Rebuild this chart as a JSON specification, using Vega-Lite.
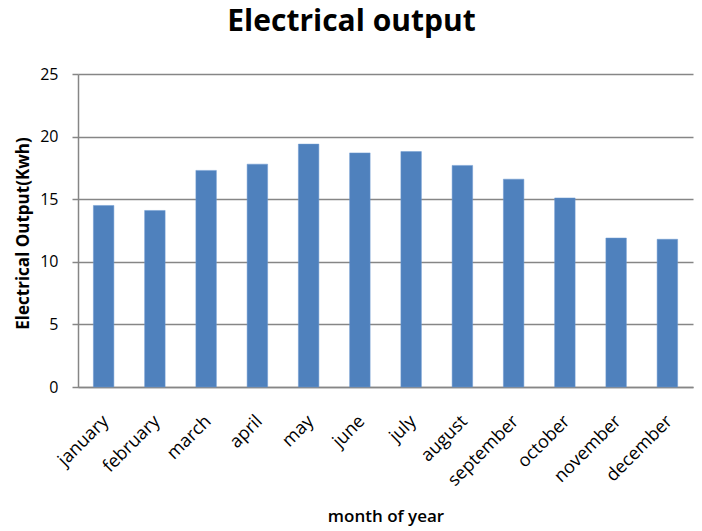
{
  "$schema": "https://vega.github.io/schema/vega-lite/v6.json",
  "width": 615,
  "height": 313,
  "autosize": {"type": "none"},
  "padding": {"left": 78, "top": 74, "right": 9, "bottom": 144},
  "background": "white",
  "title": {
    "text": "Electrical output",
    "font": "Open Sans",
    "fontSize": 30,
    "fontWeight": "bold",
    "color": "#000000",
    "anchor": "middle",
    "dx": -34,
    "offset": 29
  },
  "data": {
    "values": [
      {"month": "january", "output": 14.5},
      {"month": "february", "output": 14.1},
      {"month": "march", "output": 17.3},
      {"month": "april", "output": 17.8},
      {"month": "may", "output": 19.4},
      {"month": "june", "output": 18.7},
      {"month": "july", "output": 18.8},
      {"month": "august", "output": 17.7},
      {"month": "september", "output": 16.6},
      {"month": "october", "output": 15.1},
      {"month": "november", "output": 11.9},
      {"month": "december", "output": 11.8}
    ]
  },
  "mark": {"type": "bar", "color": "#4F81BD", "stroke": "#6f9bd1", "strokeWidth": 0.5},
  "encoding": {
    "x": {
      "field": "month",
      "type": "nominal",
      "sort": null,
      "scale": {"paddingInner": 0.6, "paddingOuter": 0.3},
      "axis": {
        "title": "month of year",
        "titleFont": "Open Sans",
        "titleFontSize": 17,
        "titleFontWeight": 600,
        "titleColor": "#000000",
        "titleY": 134,
        "titleBaseline": "alphabetic",
        "labelFont": "Open Sans",
        "labelFontSize": 18,
        "labelColor": "#000000",
        "labelAngle": -45,
        "labelPadding": 25,
        "labelOffset": -4,
        "ticks": false,
        "domainColor": "#868686",
        "domainWidth": 1.5
      }
    },
    "y": {
      "field": "output",
      "type": "quantitative",
      "scale": {"domain": [0, 25], "nice": false},
      "axis": {
        "title": "Electrical Output(Kwh)",
        "titleFont": "Open Sans",
        "titleFontSize": 17,
        "titleFontWeight": "bold",
        "titleColor": "#000000",
        "titleAngle": 270,
        "titleX": -55,
        "titleY": 159,
        "titleAlign": "center",
        "titleBaseline": "middle",
        "values": [0, 5, 10, 15, 20, 25],
        "labelFont": "Open Sans",
        "labelFontSize": 16,
        "labelColor": "#000000",
        "labelPadding": 14,
        "tickSize": 6,
        "tickColor": "#868686",
        "tickWidth": 1.5,
        "domainColor": "#868686",
        "domainWidth": 1.5,
        "grid": true,
        "gridColor": "#868686",
        "gridWidth": 1.5
      }
    }
  },
  "config": {"view": {"stroke": null}}
}
